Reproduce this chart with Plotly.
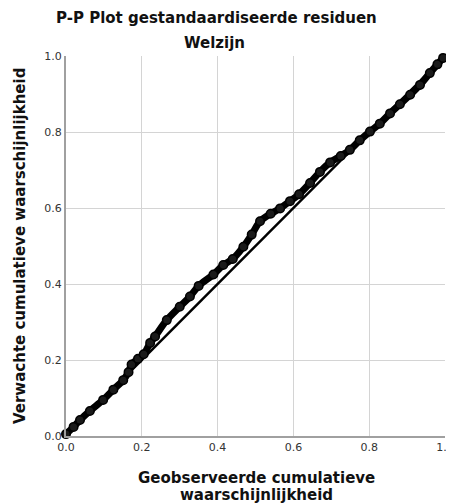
import plotly.graph_objects as go

# Observed cumulative probability (x) vs expected cumulative probability (y)
observed = [0.000, 0.020, 0.037, 0.063, 0.098, 0.125, 0.151, 0.165, 0.173, 0.190,
            0.205, 0.222, 0.235, 0.266, 0.300, 0.327, 0.350, 0.389, 0.415, 0.440,
            0.468, 0.490, 0.512, 0.540, 0.565, 0.591, 0.615, 0.644, 0.670, 0.697,
            0.725, 0.749, 0.775, 0.802, 0.828, 0.855, 0.881, 0.908, 0.934, 0.960,
            0.980, 0.995]
expected = [0.005, 0.024, 0.042, 0.066, 0.095, 0.122, 0.147, 0.168, 0.188, 0.203,
            0.215, 0.245, 0.262, 0.305, 0.340, 0.367, 0.395, 0.425, 0.450, 0.466,
            0.498, 0.530, 0.565, 0.585, 0.599, 0.618, 0.636, 0.666, 0.695, 0.720,
            0.737, 0.753, 0.778, 0.801, 0.822, 0.849, 0.873, 0.898, 0.924, 0.955,
            0.978, 0.995]
ref_x = [0.0, 1.0]
ref_y = [0.0, 1.0]
tick_vals = [0.0, 0.2, 0.4, 0.6, 0.8, 1.0]
tick_text = ["0.0", "0.2", "0.4", "0.6", "0.8", "1.0"]

fig = go.Figure()
fig.add_trace(go.Scatter(x=ref_x, y=ref_y, mode="lines",
                         line=dict(color="black", width=2.5), cliponaxis=False,
                         hoverinfo="skip"))
fig.add_trace(go.Scatter(x=observed, y=expected, mode="lines+markers",
                         line=dict(color="black", width=7, shape="spline"),
                         marker=dict(size=8.5, color="#1a1a1a",
                                     line=dict(color="black", width=1.5)),
                         cliponaxis=False))

axis_common = dict(range=[0, 1], tickvals=tick_vals, ticktext=tick_text,
                   showgrid=True, gridcolor="#d4d4d4", gridwidth=1,
                   zeroline=False, showline=True, linecolor="#a0a0a0", linewidth=2,
                   ticks="", automargin=False, ticklabeloverflow="allow",
                   tickfont=dict(family="DejaVu Sans", size=11, color="#333"),
                   fixedrange=True)

# page body has an 8px margin; the figure is offset by 8px and its overflow is cropped
fig.update_layout(
    width=454, height=504,
    margin=dict(l=58, r=17, t=48, b=76, autoexpand=False),
    paper_bgcolor="white", plot_bgcolor="white",
    showlegend=False,
    xaxis=dict(**axis_common),
    yaxis=dict(**axis_common),
)

plot_h = 380
plot_w = 379
def px(xw):
    return (xw - 66) / plot_w
def py(yw):
    return (436 - yw) / plot_h

title_font = dict(family="DejaVu Sans", size=15, color="#111")
fig.add_annotation(text="<b>P-P Plot gestandaardiseerde residuen</b>", xref="paper", yref="paper",
                   x=px(216), y=py(18), showarrow=False, yanchor="middle", font=title_font)
fig.add_annotation(text="<b>Welzijn</b>", xref="paper", yref="paper",
                   x=px(214), y=py(43), showarrow=False, yanchor="middle", font=title_font)
fig.add_annotation(text="<b>Geobserveerde cumulatieve</b>", xref="paper", yref="paper",
                   x=px(256), y=py(478), showarrow=False, yanchor="middle", font=title_font)
fig.add_annotation(text="<b>waarschijnlijkheid</b>", xref="paper", yref="paper",
                   x=px(256), y=py(495), showarrow=False, yanchor="middle", font=title_font)
fig.add_annotation(text="<b>Verwachte cumulatieve waarschijnlijkheid</b>", xref="paper", yref="paper",
                   x=px(20), y=py(246), showarrow=False, textangle=-90,
                   xanchor="center", yanchor="middle", font=title_font)

fig.write_html("out.html")
